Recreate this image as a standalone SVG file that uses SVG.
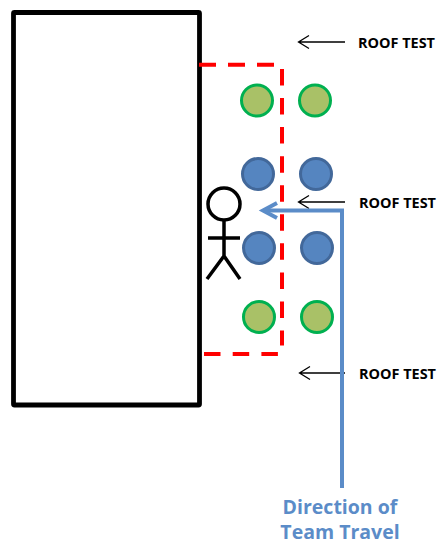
<svg xmlns="http://www.w3.org/2000/svg" width="437" height="545" viewBox="0 0 437 545">
<style>
.g{fill:#a9c167;stroke:#00b050;stroke-width:3}
.b{fill:#5585c0;stroke:#42689a;stroke-width:3}
.k{fill:none;stroke:#000;stroke-width:3.5}
.a{fill:none;stroke:#000;stroke-width:1.3}
.r{fill:none;stroke:#f00;stroke-width:4}
.t{font:bold 14px "Open Sans",sans-serif;fill:#000}
.d{font:bold 19.500px "Open Sans",sans-serif;fill:#5b8cc8;text-anchor:middle}
</style>
<rect width="437" height="545" fill="#fff"/>
<g id="building"><rect x="13.500" y="12.500" width="186" height="392.500" fill="#fff" stroke="#000" stroke-width="4.800" rx="1"/></g>
<g id="zone">
<path class="r" d="M199 64.700H274" stroke-dasharray="17 12"/>
<path class="r" d="M282 69V345.500" stroke-dasharray="16.500 12.560"/>
<path class="r" d="M204 354H278" stroke-dasharray="16.500 12.200"/>
</g>
<g id="c1"><circle class="g" cx="257" cy="100.500" r="15.500"/></g>
<g id="c2"><circle class="g" cx="315" cy="100.500" r="15.500"/></g>
<g id="c3"><circle class="b" cx="258" cy="174" r="15.500"/></g>
<g id="c4"><circle class="b" cx="316" cy="174" r="15.500"/></g>
<g id="c5"><circle class="b" cx="259" cy="248" r="15.500"/></g>
<g id="c6"><circle class="b" cx="317" cy="248" r="15.500"/></g>
<g id="c7"><circle class="g" cx="259" cy="317" r="15.500"/></g>
<g id="c8"><circle class="g" cx="317" cy="317" r="15.500"/></g>
<g id="person">
<circle class="k" cx="224" cy="204" r="16" fill="#fff"/>
<path class="k" d="M224 220V256M208 238H240M207 279L224 256L240 279"/>
</g>
<g id="connectors">
<path class="a" d="M345 42H298.500M309 35.500L298.500 42L309 48.500"/>
<path class="a" d="M345 202H298.500M309 195.500L298.500 202L309 208.500"/>
<path class="a" d="M345 373H299.500M310 366.500L299.500 373L310 379.500"/>
<path d="M342 488V210.500H264" fill="none" stroke="#5b8cc8" stroke-width="4"/>
<path d="M277 203L263 210.500L277 218" fill="none" stroke="#5b8cc8" stroke-width="4"/>
</g>
<g id="labels">
<text class="t" x="358" y="47.500" textLength="77" lengthAdjust="spacingAndGlyphs">ROOF TEST</text>
<text class="t" x="359" y="207.500" textLength="77" lengthAdjust="spacingAndGlyphs">ROOF TEST</text>
<text class="t" x="359" y="378.500" textLength="77" lengthAdjust="spacingAndGlyphs">ROOF TEST</text>
<text class="d" x="340" y="514">Direction of</text>
<text class="d" x="340" y="539">Team Travel</text>
</g>
</svg>
